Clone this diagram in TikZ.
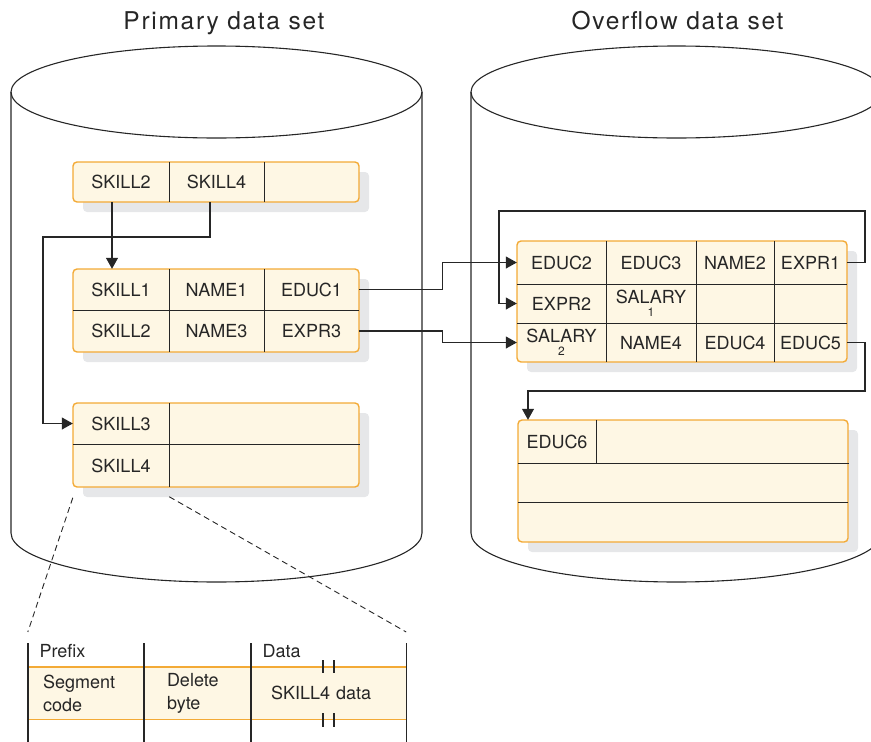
\documentclass[tikz,border=0pt]{standalone}
\usepackage{fontspec}
\setmainfont{TeX Gyre Heros}
\newfontfamily\titlefont[LetterSpace=7]{TeX Gyre Heros}
\usepackage{xcolor}
\usetikzlibrary{arrows.meta,shadows}
\definecolor{recfill}{RGB}{254,247,228}
\definecolor{recedge}{RGB}{243,170,54}
\definecolor{recshade}{RGB}{230,231,233}
\definecolor{inkgray}{RGB}{38,38,38}
\newcommand{\subnum}[1]{{\fontsize{12}{12}\selectfont #1}}

\begin{document}
\begin{tikzpicture}[
  x=1pt, y=-1pt,
  every node/.style={font=\fontsize{18}{23}\selectfont, text=inkgray},
  >={Triangle[length=11pt,width=12pt]},
  recbox/.style={draw=recedge, line width=1.4pt, fill=recfill, rounded corners=4pt,
    inner sep=0pt, drop shadow={shadow xshift=10pt, shadow yshift=-10pt,
    fill=recshade, opacity=1}},
  cell/.style={inner sep=0pt},
  divline/.style={draw=inkgray, line width=1.3pt},
  link/.style={draw=inkgray, line width=1.1pt},
  drum/.style={draw=inkgray, line width=1.1pt},
  zoomline/.style={draw=inkgray, line width=0.9pt, dash pattern=on 6pt off 4pt},
  bandcell/.style={fill=recfill, inner ysep=0pt, minimum height=52pt, align=left},
  tick/.style={draw=inkgray, line width=1.4pt}
]
\useasboundingbox (0,0) rectangle (871,742);
\clip (0,0) rectangle (871,742);

% ── Titles ────────────────────────────────────────────────────────────────
\node[anchor=base, font=\titlefont\fontsize{24.5}{28}\selectfont] (ptitle) at (224,29)
  {Primary data set};
\node[anchor=base, font=\titlefont\fontsize{24.5}{28}\selectfont] (otitle) at (677.5,29.5)
  {Overflow data set};

% ── Cylinders ─────────────────────────────────────────────────────────────
\draw[drum] (216.5,92) ellipse [x radius=205.5, y radius=46];
\draw[drum] (11,92) -- (11,533)
  .. controls (11,560) and (103,582) .. (216.5,582)
  .. controls (330,582) and (422,560) .. (422,533) -- (422,92);
\draw[drum] (676.5,92) ellipse [x radius=205.5, y radius=46];
\draw[drum] (471,92) -- (471,533)
  .. controls (471,560) and (563,582) .. (676.5,582)
  .. controls (790,582) and (882,560) .. (882,533) -- (882,92);

% ── Primary: root segment ─────────────────────────────────────────────────
\node[recbox, minimum width=286pt, minimum height=40pt] (boxA) at (216,182) {};
\node[cell, minimum width=96pt, minimum height=40pt] (a1) at (121,182) {SKILL2};
\node[cell, minimum width=95pt, minimum height=40pt] (a2) at (216.5,182) {SKILL4};
\node[cell, minimum width=95pt, minimum height=40pt] (a3) at (311.5,182) {};
\draw[divline] (a1.north east) -- (a1.south east);
\draw[divline] (a2.north east) -- (a2.south east);

% ── Primary: SKILL1 / SKILL2 segments ────────────────────────────────────
\node[recbox, minimum width=286pt, minimum height=83pt] (boxB) at (216,310.5) {};
\node[cell, minimum width=96pt, minimum height=41pt] (b1) at (121,289.5) {SKILL1};
\node[cell, minimum width=95pt, minimum height=41pt] (b2) at (216.5,289.5) {NAME1};
\node[cell, minimum width=95pt, minimum height=41pt] (b3) at (311.5,289.5) {EDUC1};
\node[cell, minimum width=96pt, minimum height=42pt] (b4) at (121,331) {SKILL2};
\node[cell, minimum width=95pt, minimum height=42pt] (b5) at (216.5,331) {NAME3};
\node[cell, minimum width=95pt, minimum height=42pt] (b6) at (311.5,331) {EXPR3};
\draw[divline] (b1.north east) -- (b4.south east);
\draw[divline] (b2.north east) -- (b5.south east);
\draw[divline] (b1.south west) -- (b3.south east);

% ── Primary: SKILL3 / SKILL4 segments ────────────────────────────────────
\node[recbox, minimum width=286pt, minimum height=84pt] (boxC) at (216,445) {};
\node[cell, minimum width=96pt, minimum height=41pt] (c1) at (121,423.5) {SKILL3};
\node[cell, minimum width=96pt, minimum height=42pt] (c2) at (121,465.5) {SKILL4};
\draw[divline] (c1.north east) -- (c2.south east);
\draw[divline] (c1.south west) -- (c1.south west -| boxC.east);

% ── Overflow: first block ────────────────────────────────────────────────
\node[recbox, minimum width=330pt, minimum height=121pt] (boxD) at (682,301.5) {};
\node[cell, minimum width=89pt, minimum height=43pt] (d1) at (561.5,262.5) {EDUC2};
\node[cell, minimum width=90pt, minimum height=43pt] (d2) at (651,262.5) {EDUC3};
\node[cell, minimum width=78pt, minimum height=43pt] (d3) at (735,262.5) {NAME2};
\node[cell, minimum width=73pt, minimum height=43pt] (d4) at (810.5,262.5) {EXPR1};
\node[cell, minimum width=89pt, minimum height=39pt] (d5) at (561.5,303.5) {EXPR2};
\node[cell, minimum width=90pt, minimum height=39pt, align=center] (d6) at (651,303.5)
  {SALARY\\[-10pt]\subnum{1}};
\node[cell, minimum width=78pt, minimum height=39pt] (d7) at (735,303.5) {};
\node[cell, minimum width=73pt, minimum height=39pt] (d8) at (810.5,303.5) {};
\node[cell, minimum width=89pt, minimum height=39pt, align=center] (d9) at (561.5,342.5)
  {SALARY\\[-10pt]\subnum{2}};
\node[cell, minimum width=90pt, minimum height=39pt] (d10) at (651,342.5) {NAME4};
\node[cell, minimum width=78pt, minimum height=39pt] (d11) at (735,342.5) {EDUC4};
\node[cell, minimum width=73pt, minimum height=39pt] (d12) at (810.5,342.5) {EDUC5};
\draw[divline] (d1.north east) -- (d9.south east);
\draw[divline] (d2.north east) -- (d10.south east);
\draw[divline] (d3.north east) -- (d11.south east);
\draw[divline] (d1.south west) -- (d4.south east);
\draw[divline] (d5.south west) -- (d8.south east);

% ── Overflow: second block ───────────────────────────────────────────────
\node[recbox, minimum width=330pt, minimum height=122pt] (boxE) at (683,481) {};
\node[cell, minimum width=78pt, minimum height=43pt] (e1) at (557,441.5) {EDUC6};
\node[cell, minimum width=330pt, minimum height=39pt] (e2) at (683,482.5) {};
\draw[divline] (e1.north east) -- (e1.south east);
\draw[divline] (e1.south west) -- (e1.south west -| boxE.east);
\draw[divline] (e2.south west) -- (e2.south east);

% ── Pointers ─────────────────────────────────────────────────────────────
\coordinate (t1) at (43,237);
\coordinate (r1) at (865,211);
\coordinate (r2) at (499,211);
\coordinate (r3) at (865,391);
\draw[link, ->] ([xshift=-9pt]a1.south) -- ([xshift=-9pt]b1.north);
\draw[link, ->] ([xshift=-6.5pt]a2.south) |- (t1) |- (c1.west);
\draw[link, ->] (b3.east) -| ([xshift=-74pt]d1.west) -- (d1.west);
\draw[link, ->] (b6.east) -| ([xshift=-74pt]d9.west) -- (d9.west);
\draw[link, ->] (d4.east) -| (r1) -- (r2) |- (d5.west);
\draw[link, ->] (d12.east) -| (r3) -| ([xshift=-29pt]e1.north);

% ── Segment layout detail ────────────────────────────────────────────────
\node[bandcell, minimum width=116pt, inner xsep=15pt, text width=86pt] (f1) at (86,693)
  {Segment\\code};
\node[bandcell, minimum width=107pt, inner xsep=23pt, text width=61pt] (f2) at (197.5,693)
  {Delete\\byte};
\node[bandcell, minimum width=155pt, inner xsep=20pt, text width=115pt] (f3) at (328.5,693)
  {SKILL4 data};
\draw[draw=recedge, line width=1.4pt] (f1.north west) -- (f3.north east);
\draw[draw=recedge, line width=1.4pt] (f1.south west) -- (f3.south east);
\coordinate (lt) at (0,643);
\coordinate (lb) at (0,742);
\coordinate (zt) at (0,632);
\draw[tick] (f1.west |- lt) -- (f1.west |- lb);
\draw[tick] (f2.west |- lt) -- (f2.west |- lb);
\draw[tick] (f3.west |- lt) -- (f3.west |- lb);
\draw[tick] (f3.east |- lt) -- (f3.east |- lb);
\node[anchor=west] (pfx) at (36,651) {Prefix};
\node[anchor=west] (dat) at (259,651) {Data};
\draw[link] (323,660) -- (323,673);
\draw[link] (334,660) -- (334,673);
\draw[link] (323,713) -- (323,727);
\draw[link] (334,713) -- (334,727);

% ── Zoom lines ───────────────────────────────────────────────────────────
\draw[zoomline] ([yshift=-11pt]c2.south west) -- (f1.west |- zt);
\draw[zoomline] ([yshift=-10pt]c2.south east) -- (f3.east |- zt);

\end{tikzpicture}
\end{document}
